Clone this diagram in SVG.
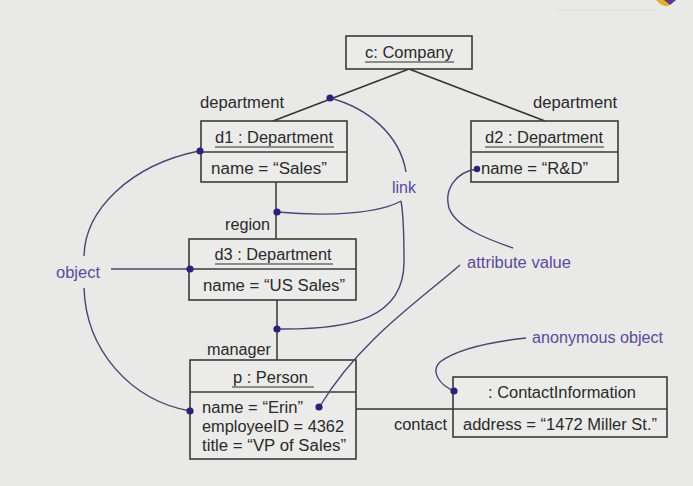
<svg xmlns="http://www.w3.org/2000/svg" width="693" height="486" viewBox="0 0 693 486">
<style>
.box{fill:#ebebe9;stroke:#3a3a3a;stroke-width:1.6}
.div{stroke:#3a3a3a;stroke-width:1.4}
.t{font-family:"Liberation Sans",Arial,sans-serif;font-size:16px;fill:#2a2a2a}
.c{text-anchor:middle}
.u{stroke:#2e2e2e;stroke-width:1.2}
.lnk{fill:none;stroke:#333;stroke-width:1.5}
.ann{fill:none;stroke:#4a4470;stroke-width:1.4}
.at{font-family:"Liberation Sans",Arial,sans-serif;font-size:16px;fill:#5b4a9e}
.dot{fill:#2b2278}
</style>
<rect width="693" height="486" fill="#e9e9e7"/>
<line x1="555" y1="10" x2="655" y2="10" stroke="#dcdcdc" stroke-width="1"/>
<path d="M656 0 L676 0 L668 6 Q662 7 656 0 Z" fill="#e0b020"/>
<path d="M664 0 L676 0 L670 5 Z" fill="#5a3a90"/>

<g id="connectors">
<line class="lnk" x1="409" y1="69" x2="273" y2="121"/>
<line class="lnk" x1="409" y1="69" x2="545" y2="121"/>
<line class="lnk" x1="276" y1="182" x2="276" y2="239"/>
<line class="lnk" x1="277" y1="300" x2="277" y2="360"/>
<line class="lnk" x1="356" y1="409" x2="453" y2="409"/>
<text class="t" x="200" y="108" textLength="84" lengthAdjust="spacingAndGlyphs">department</text>
<text class="t" x="533" y="108" textLength="84" lengthAdjust="spacingAndGlyphs">department</text>
<text class="t" x="225" y="230" textLength="45" lengthAdjust="spacingAndGlyphs">region</text>
<text class="t" x="207" y="355" textLength="64" lengthAdjust="spacingAndGlyphs">manager</text>
<text class="t" x="394" y="430" textLength="53" lengthAdjust="spacingAndGlyphs">contact</text>
</g>

<g id="company">
<rect class="box" x="346" y="36" width="126" height="33"/>
<text class="t c" x="409" y="58" textLength="88" lengthAdjust="spacingAndGlyphs">c: Company</text>
<line class="u" x1="365" y1="62" x2="454" y2="62"/>
</g>

<g id="d1">
<rect class="box" x="201" y="121" width="146" height="61"/>
<line class="div" x1="201" y1="152" x2="347" y2="152"/>
<text class="t c" x="274" y="143" textLength="118" lengthAdjust="spacingAndGlyphs">d1 : Department</text>
<line class="u" x1="215" y1="147" x2="334" y2="147"/>
<text class="t" x="211" y="174" textLength="116" lengthAdjust="spacingAndGlyphs">name = “Sales”</text>
</g>

<g id="d2">
<rect class="box" x="471" y="121" width="147" height="61"/>
<line class="div" x1="471" y1="152" x2="618" y2="152"/>
<text class="t c" x="544" y="143" textLength="118" lengthAdjust="spacingAndGlyphs">d2 : Department</text>
<line class="u" x1="485" y1="147" x2="604" y2="147"/>
<text class="t" x="481" y="174" textLength="107" lengthAdjust="spacingAndGlyphs">name = “R&amp;D”</text>
</g>

<g id="d3">
<rect class="box" x="189" y="239" width="167" height="61"/>
<line class="div" x1="189" y1="269" x2="356" y2="269"/>
<text class="t c" x="273" y="260" textLength="117" lengthAdjust="spacingAndGlyphs">d3 : Department</text>
<line class="u" x1="215" y1="264" x2="333" y2="264"/>
<text class="t" x="203" y="291" textLength="142" lengthAdjust="spacingAndGlyphs">name = “US Sales”</text>
</g>

<g id="person">
<rect class="box" x="190" y="360" width="166" height="99"/>
<line class="div" x1="190" y1="392" x2="356" y2="392"/>
<text class="t" x="233" y="383" textLength="75" lengthAdjust="spacingAndGlyphs">p : Person</text>
<line class="u" x1="232" y1="387" x2="314" y2="387"/>
<text class="t" x="202" y="413" textLength="101" lengthAdjust="spacingAndGlyphs">name = “Erin”</text>
<text class="t" x="202" y="432" textLength="142" lengthAdjust="spacingAndGlyphs">employeeID = 4362</text>
<text class="t" x="202" y="451" textLength="144" lengthAdjust="spacingAndGlyphs">title = “VP of Sales”</text>
</g>

<g id="contactinfo">
<rect class="box" x="453" y="377" width="214" height="60"/>
<line class="div" x1="453" y1="409" x2="667" y2="409"/>
<text class="t" x="488" y="398" textLength="148" lengthAdjust="spacingAndGlyphs">: ContactInformation</text>
<text class="t" x="463" y="430" textLength="194" lengthAdjust="spacingAndGlyphs">address = “1472 Miller St.”</text>
</g>

<g id="annotations">
<path class="ann" d="M330 98 C368 108 400 135 406 172"/>
<path class="ann" d="M277 212 C330 217 380 213 401 201"/>
<path class="ann" d="M277 329 C352 330 404 318 404 262 C404 232 403 212 401 201"/>
<text class="at" x="392" y="193" textLength="24" lengthAdjust="spacingAndGlyphs">link</text>
<path class="ann" d="M477 169 C455 172 444 190 449 208 C456 228 490 240 513 248"/>
<path class="ann" d="M460 265 C420 300 360 340 320 406"/>
<text class="at" x="467" y="268" textLength="104" lengthAdjust="spacingAndGlyphs">attribute value</text>
<path class="ann" d="M526 338 C490 342 456 350 440 362 C430 372 440 385 454 391"/>
<text class="at" x="532" y="343" textLength="131" lengthAdjust="spacingAndGlyphs">anonymous object</text>
<path class="ann" d="M84 256 C85 210 130 165 199 151"/>
<path class="ann" d="M111 269 L190 269"/>
<path class="ann" d="M84 288 C86 350 130 400 190 411"/>
<text class="at" x="56" y="278" textLength="44" lengthAdjust="spacingAndGlyphs">object</text>
<circle class="dot" cx="330" cy="98" r="3.6"/>
<circle class="dot" cx="277" cy="212" r="3.6"/>
<circle class="dot" cx="277" cy="329" r="3.6"/>
<circle class="dot" cx="477" cy="169" r="3.2"/>
<circle class="dot" cx="319" cy="407" r="3.6"/>
<circle class="dot" cx="454" cy="391" r="3.6"/>
<circle class="dot" cx="200" cy="151" r="3.6"/>
<circle class="dot" cx="190" cy="269" r="3.6"/>
<circle class="dot" cx="190" cy="411" r="3.6"/>
</g>
</svg>
